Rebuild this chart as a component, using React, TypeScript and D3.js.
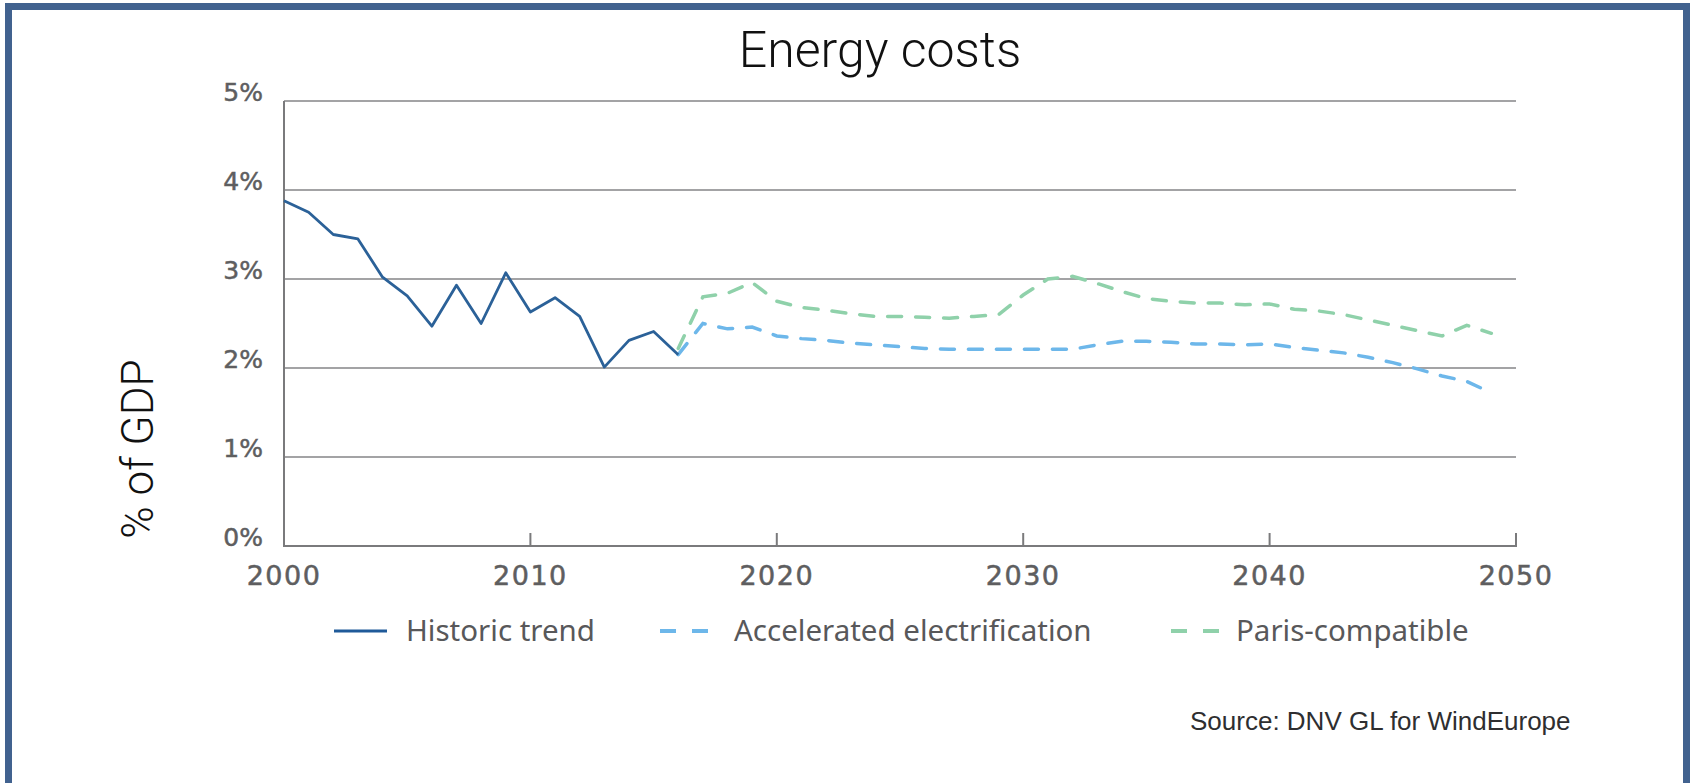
import React from "react";
import * as d3 from "d3";

// Energy costs as a share of GDP, historic and projected
const historicYears = [2000, 2001, 2002, 2003, 2004, 2005, 2006, 2007, 2008, 2009, 2010, 2011, 2012, 2013, 2014, 2015, 2016];
const historicValues = [3.88, 3.75, 3.5, 3.45, 3.02, 2.81, 2.47, 2.93, 2.5, 3.07, 2.63, 2.79, 2.58, 2.01, 2.31, 2.41, 2.15];

const projectionYears = [
  2016, 2017, 2018, 2019, 2020, 2021, 2022, 2023, 2024, 2025, 2026, 2027, 2028, 2029, 2030, 2031, 2032,
  2033, 2034, 2035, 2036, 2037, 2038, 2039, 2040, 2041, 2042, 2043, 2044, 2045, 2046, 2047, 2048, 2049,
];
const electrificationValues = [
  2.15, 2.5, 2.44, 2.46, 2.36, 2.33, 2.31, 2.28, 2.26, 2.24, 2.22, 2.21, 2.21, 2.21, 2.21, 2.21, 2.21,
  2.26, 2.3, 2.3, 2.29, 2.27, 2.27, 2.26, 2.27, 2.23, 2.2, 2.17, 2.12, 2.06, 1.99, 1.91, 1.85, 1.72,
];
const parisValues = [
  2.22, 2.8, 2.84, 2.96, 2.75, 2.68, 2.65, 2.61, 2.58, 2.58, 2.57, 2.56, 2.58, 2.6, 2.82, 3.0, 3.03,
  2.95, 2.86, 2.78, 2.75, 2.73, 2.73, 2.71, 2.72, 2.66, 2.64, 2.6, 2.54, 2.48, 2.42, 2.36, 2.48, 2.39,
];

const yTicks = [0, 1, 2, 3, 4, 5];
const xTicks = [2000, 2010, 2020, 2030, 2040, 2050];

const seriesNames = ["Historic trend", "Accelerated electrification", "Paris-compatible"];
const seriesColors = ["#2b6198", "#6db7ea", "#8fd1aa"];

const W = 1696;
const H = 783;

export default function App() {
  const x = d3.scaleLinear().domain([2000, 2050]).range([284, 1516]);
  const y = d3.scaleLinear().domain([0, 5]).range([546, 101]);

  const line = d3
    .line<[number, number]>()
    .x((d) => x(d[0]))
    .y((d) => y(d[1]));

  const historic = line(historicYears.map((yr, i) => [yr, historicValues[i]] as [number, number])) || "";
  const electrification = line(projectionYears.map((yr, i) => [yr, electrificationValues[i]] as [number, number])) || "";
  const paris = line(projectionYears.map((yr, i) => [yr, parisValues[i]] as [number, number])) || "";

  const tickFont = "'DejaVu Sans', sans-serif";
  const legendFont = "'Noto Sans', sans-serif";
  const legendY = 631;

  // legend entries: marker start, marker end, text start
  const legend = [
    { x0: 334, x1: 387, tx: 406, dashed: false },
    { x0: 660, x1: 708, tx: 734, dashed: true },
    { x0: 1171, x1: 1220, tx: 1236, dashed: true },
  ];

  return (
    <svg
      width={W}
      height={H}
      viewBox={`0 0 ${W} ${H}`}
      style={{ position: "absolute", left: 0, top: 0, display: "block", background: "#fff" }}
    >
      <rect x={0} y={0} width={W} height={H} fill="#fff" />
      {/* frame */}
      <rect x={8.5} y={6.5} width={1678} height={820} fill="none" stroke="#41628f" strokeWidth={7} />

      {/* title */}
      <text
        x={880}
        y={67}
        textAnchor="middle"
        fontFamily="Roboto, 'Open Sans', sans-serif"
        fontWeight={300}
        fontSize={50}
        fill="#111"
      >
        Energy costs
      </text>

      {/* gridlines */}
      {yTicks.slice(1).map((t) => (
        <line key={`g${t}`} x1={x(2000)} x2={x(2050)} y1={y(t)} y2={y(t)} stroke="#a3a3a5" strokeWidth={2} />
      ))}

      {/* axes */}
      <line x1={x(2000)} x2={x(2000)} y1={y(5)} y2={y(0)} stroke="#7a7a7c" strokeWidth={2} />
      <line x1={x(2000) - 1} x2={x(2050) + 1} y1={y(0)} y2={y(0)} stroke="#7a7a7c" strokeWidth={2.2} />
      {xTicks.slice(1).map((t) => (
        <line key={`t${t}`} x1={x(t)} x2={x(t)} y1={y(0)} y2={y(0) - 13} stroke="#7a7a7c" strokeWidth={2} />
      ))}

      {/* y tick labels */}
      {yTicks.map((t) => (
        <text
          key={`yl${t}`}
          x={263}
          y={y(t)}
          textAnchor="end"
          fontFamily={tickFont}
          fontSize={25}
          fill="#5e5e60"
          stroke="#5e5e60"
          strokeWidth={0.5}
        >
          {`${t}%`}
        </text>
      ))}

      {/* x tick labels */}
      {xTicks.map((t) => (
        <text
          key={`xl${t}`}
          x={x(t)}
          y={585}
          textAnchor="middle"
          fontFamily={tickFont}
          fontSize={27}
          letterSpacing={1.5}
          fill="#5e5e60"
          stroke="#5e5e60"
          strokeWidth={0.5}
        >
          {t}
        </text>
      ))}

      {/* y-axis title */}
      <text
        transform="translate(153,449) rotate(-90)"
        textAnchor="middle"
        fontFamily="Roboto, sans-serif"
        fontWeight={300}
        fontSize={44}
        fill="#111"
      >
        % of GDP
      </text>

      {/* series */}
      <path d={paris} fill="none" stroke={seriesColors[2]} strokeWidth={3.5} strokeDasharray="14 14" strokeLinecap="round" />
      <path d={electrification} fill="none" stroke={seriesColors[1]} strokeWidth={3.5} strokeDasharray="14 14" strokeLinecap="round" />
      <path d={historic} fill="none" stroke={seriesColors[0]} strokeWidth={2.8} strokeLinejoin="round" />

      {/* legend */}
      {legend.map((l, i) => (
        <g key={`lg${i}`}>
          <line
            x1={l.x0}
            x2={l.x1}
            y1={legendY}
            y2={legendY}
            stroke={i === 0 ? "#1f5a99" : seriesColors[i]}
            strokeWidth={i === 0 ? 3 : 4}
            strokeDasharray={l.dashed ? "16 16" : undefined}
          />
          <text x={l.tx} y={legendY + 10} fontFamily={legendFont} fontSize={29.5} fill="#58585a">
            {seriesNames[i]}
          </text>
        </g>
      ))}

      {/* source */}
      <text x={1190} y={730} fontFamily="'Liberation Sans', Arial, sans-serif" fontSize={26} fill="#2e2e30">
        Source: DNV GL for WindEurope
      </text>
    </svg>
  );
}
